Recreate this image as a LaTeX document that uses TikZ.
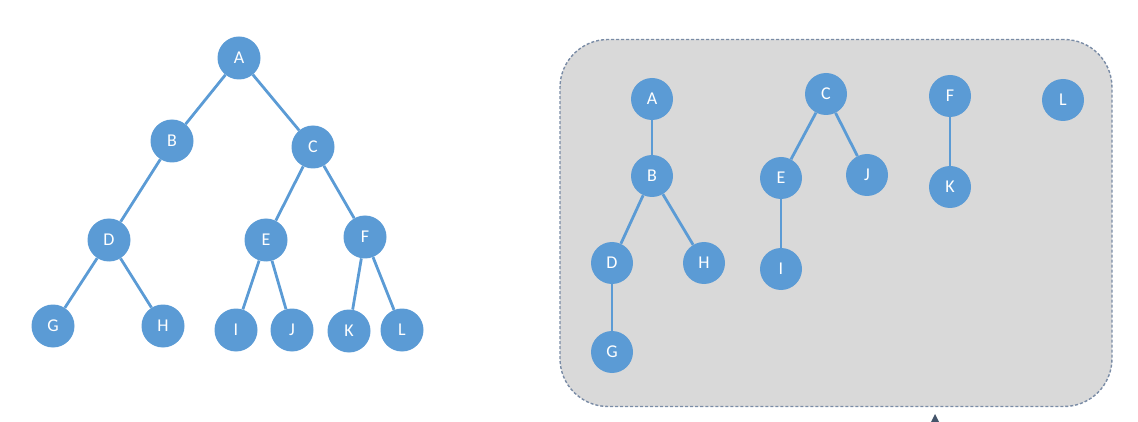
\documentclass[tikz,border=0pt]{standalone}
\usepackage{fontspec}
\setmainfont{Carlito}
\usepackage{xcolor}
\usetikzlibrary{arrows.meta,positioning}
\definecolor{nodeblue}{HTML}{5B9BD5}
\definecolor{panelgray}{HTML}{D9D9D9}
\definecolor{dashgray}{HTML}{7A8CA6}
\definecolor{tipgray}{HTML}{44546A}
\tikzset{
  vertex/.style={circle,fill=nodeblue,draw=none,minimum size=43pt,inner sep=0pt,
    text=white,font=\fontsize{18}{18}\selectfont},
  svertex/.style={vertex,minimum size=42pt},
  edge/.style={line width=2.8pt,draw=nodeblue},
  panel/.style={draw=dashgray,fill=panelgray,line width=1.4pt,
    dash pattern=on 3pt off 2pt,rounded corners=48pt}
}
\begin{document}
\begin{tikzpicture}[x=1pt,y=-1pt]
\useasboundingbox (0,0) rectangle (1138,422);
% full binary tree
\node[vertex] (a) at (239,58) {A};
\node[vertex] (b) at (172,141) {B};
\node[vertex] (c) at (313,147) {C};
\node[vertex] (d) at (109,240) {D};
\node[vertex] (e) at (266,240) {E};
\node[vertex] (f) at (365,237) {F};
\node[vertex] (g) at (53,326) {G};
\node[vertex] (h) at (163,326) {H};
\node[vertex] (i) at (236,330) {I};
\node[vertex] (j) at (292,330) {J};
\node[vertex] (k) at (349,331) {K};
\node[vertex] (l) at (402,330) {L};
\draw[edge] (a)--(b); \draw[edge] (a)--(c); \draw[edge] (b)--(d); \draw[edge] (c)--(e);
\draw[edge] (c)--(f); \draw[edge] (d)--(g); \draw[edge] (d)--(h); \draw[edge] (e)--(i);
\draw[edge] (e)--(j); \draw[edge] (f)--(k); \draw[edge] (f)--(l);
% forest panel
\node[panel,minimum width=552pt,minimum height=367pt,inner sep=0pt] (box) at (836,223) {};
\node[svertex] (fa) at (652,99) {A};
\node[svertex] (fb) at (652,176) {B};
\node[svertex] (fd) at (612,263) {D};
\node[svertex] (fh) at (704,263) {H};
\node[svertex] (fg) at (612,352) {G};
\node[svertex] (fc) at (826,94) {C};
\node[svertex] (fe) at (781,178) {E};
\node[svertex] (fj) at (867,175) {J};
\node[svertex] (fi) at (781,269) {I};
\node[svertex] (ff) at (950,96) {F};
\node[svertex] (fk) at (950,187) {K};
\node[svertex] (fl) at (1063,100) {L};
\draw[edge] (fa)--(fb); \draw[edge] (fb)--(fd); \draw[edge] (fb)--(fh); \draw[edge] (fd)--(fg);
\draw[edge] (fc)--(fe); \draw[edge] (fc)--(fj); \draw[edge] (fe)--(fi); \draw[edge] (ff)--(fk);
% cut-off pointer below the panel
\coordinate (tip) at (935,414);
\fill[tipgray] (tip) -- ++(4,8) -- ++(-8,0) -- cycle;
\end{tikzpicture}
\end{document}
